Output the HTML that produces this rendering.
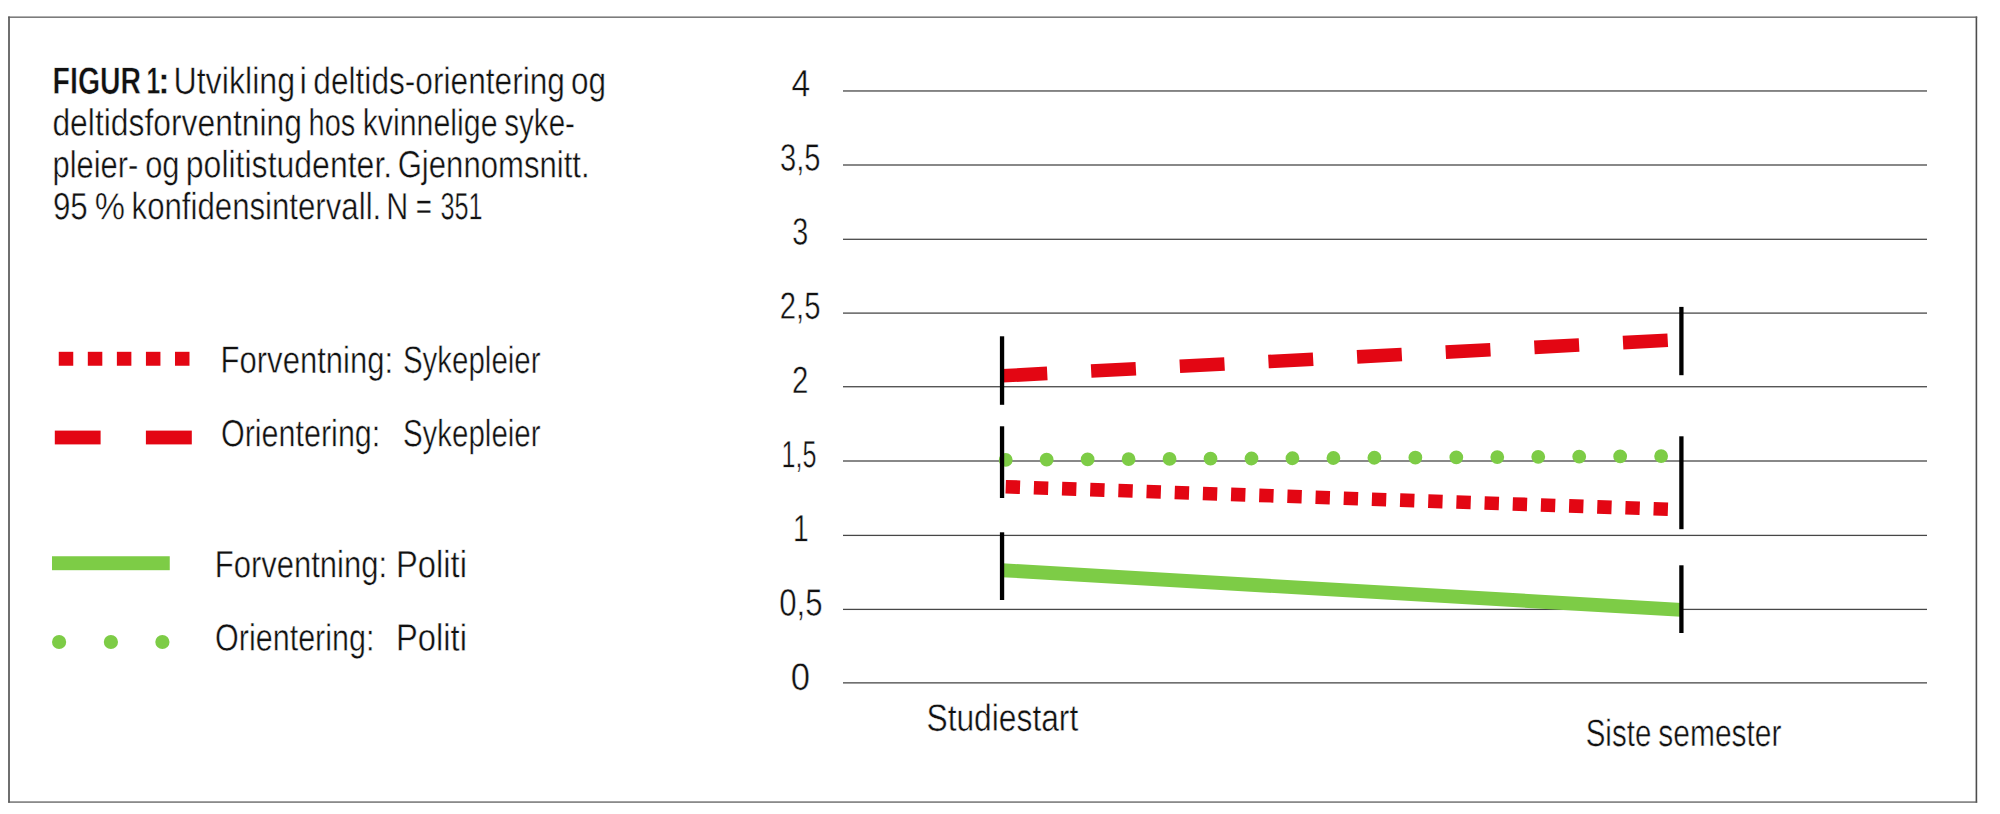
<!DOCTYPE html>
<html lang="no"><head><meta charset="utf-8"><title>Figur 1</title>
<style>html,body{margin:0;padding:0;background:#fff;overflow:hidden}svg{display:block}text{font-family:"Liberation Sans",sans-serif;font-size:38.0px;fill:#111;text-rendering:geometricPrecision;stroke:#fff;stroke-width:0.45px}.b{font-weight:bold;stroke-width:0.5px}</style></head><body>
<svg width="2000" height="814" viewBox="0 0 2000 814">
<rect x="0" y="0" width="2000" height="814" fill="#fff"/>
<g fill="#4d4d4d"><rect x="8.2" y="16.5" width="1.6" height="786.2"/><rect x="1975.6" y="16.5" width="1.6" height="786.2"/></g>
<g fill="#5e5e5e"><rect x="8.2" y="16.51" width="1969" height="1.3"/><rect x="8.2" y="801.42" width="1969" height="1.3"/></g>
<g fill="#474747">
<rect x="843" y="90.33" width="1084" height="1.28"/>
<rect x="843" y="164.36" width="1084" height="1.28"/>
<rect x="843" y="238.66" width="1084" height="1.28"/>
<rect x="843" y="312.46" width="1084" height="1.28"/>
<rect x="843" y="386.09" width="1084" height="1.28"/>
<rect x="843" y="460.36" width="1084" height="1.28"/>
<rect x="843" y="534.76" width="1084" height="1.28"/>
<rect x="843" y="608.76" width="1084" height="1.28"/>
<rect x="843" y="682.23" width="1084" height="1.28"/>
</g>
<g fill="none" stroke-width="13.6">
<line x1="1002.5" y1="375.8" x2="1681.4" y2="339.5" stroke="#e30613" stroke-dasharray="44.8 43.97"/>
<line x1="1005.7" y1="459.9" x2="1662" y2="456.1" stroke="#7dcc46" stroke-width="13.8" stroke-linecap="round" stroke-dasharray="0.01 40.955"/>
<line x1="1005.7" y1="486.75" x2="1668.5" y2="509.27" stroke="#e30613" stroke-dasharray="14.35 13.835"/>
<line x1="1002" y1="570.2" x2="1681.4" y2="609.9" stroke="#7dcc46" stroke-width="13.9"/>
</g>
<g fill="#000">
<rect x="999.90" y="336.3" width="4.3" height="68.5"/>
<rect x="999.90" y="426.3" width="4.3" height="71.7"/>
<rect x="999.90" y="532.3" width="4.3" height="67.7"/>
<rect x="1679.25" y="306.9" width="4.3" height="68.3"/>
<rect x="1679.25" y="436.3" width="4.3" height="92.9"/>
<rect x="1679.25" y="565.3" width="4.3" height="67.7"/>
</g>
<rect x="58.75" y="351.8" width="14.5" height="13.95" fill="#e30613"/>
<rect x="87.81" y="351.8" width="14.5" height="13.95" fill="#e30613"/>
<rect x="116.87" y="351.8" width="14.5" height="13.95" fill="#e30613"/>
<rect x="145.93" y="351.8" width="14.5" height="13.95" fill="#e30613"/>
<rect x="174.99" y="351.8" width="14.5" height="13.95" fill="#e30613"/>
<rect x="54.8" y="430.6" width="45.8" height="13.8" fill="#e30613"/>
<rect x="145.9" y="430.6" width="45.9" height="13.8" fill="#e30613"/>
<rect x="52.0" y="556.25" width="117.75" height="13.95" fill="#7dcc46"/>
<circle cx="59.1" cy="642.0" r="7.1" fill="#7dcc46"/>
<circle cx="110.9" cy="642.0" r="7.1" fill="#7dcc46"/>
<circle cx="162.4" cy="642.0" r="7.1" fill="#7dcc46"/>
<text id="t1a" transform="matrix(1 0.001 0 1 0 -0.0969)" x="52.60" y="93.82" textLength="88.55" lengthAdjust="spacingAndGlyphs" class="b">FIGUR</text>
<text id="t1a2" transform="matrix(1 0.001 0 1 0 -0.1533)" x="146.42" y="93.82" textLength="13.77" lengthAdjust="spacingAndGlyphs" class="b">1</text>
<text id="t1a3" transform="matrix(1 0.001 0 1 0 -0.1639)" x="158.02" y="93.82" textLength="11.78" lengthAdjust="spacingAndGlyphs" class="b">:</text>
<text id="t1b" transform="matrix(1 0.001 0 1 0 -0.2343)" x="173.42" y="93.82" textLength="121.75" lengthAdjust="spacingAndGlyphs">Utvikling</text>
<text id="t1c" transform="matrix(1 0.001 0 1 0 -0.3033)" x="299.55" y="93.82" textLength="7.44" lengthAdjust="spacingAndGlyphs">i</text>
<text id="t1d" transform="matrix(1 0.001 0 1 0 -0.4391)" x="313.33" y="93.82" textLength="251.62" lengthAdjust="spacingAndGlyphs">deltids-orientering</text>
<text id="t1e" transform="matrix(1 0.001 0 1 0 -0.5886)" x="571.03" y="93.82" textLength="35.04" lengthAdjust="spacingAndGlyphs">og</text>
<text id="t2a" transform="matrix(1 0.001 0 1 0 -0.1772)" x="52.42" y="135.62" textLength="249.57" lengthAdjust="spacingAndGlyphs">deltidsforventning</text>
<text id="t2b" transform="matrix(1 0.001 0 1 0 -0.3320)" x="308.60" y="135.62" textLength="46.75" lengthAdjust="spacingAndGlyphs">hos</text>
<text id="t2c" transform="matrix(1 0.001 0 1 0 -0.4301)" x="362.63" y="135.62" textLength="134.95" lengthAdjust="spacingAndGlyphs">kvinnelige</text>
<text id="t2d" transform="matrix(1 0.001 0 1 0 -0.5396)" x="504.25" y="135.62" textLength="70.71" lengthAdjust="spacingAndGlyphs">syke-</text>
<text id="t3a" transform="matrix(1 0.001 0 1 0 -0.0954)" x="52.44" y="177.42" textLength="85.89" lengthAdjust="spacingAndGlyphs">pleier-</text>
<text id="t3b" transform="matrix(1 0.001 0 1 0 -0.1623)" x="145.16" y="177.42" textLength="34.37" lengthAdjust="spacingAndGlyphs">og</text>
<text id="t3c" transform="matrix(1 0.001 0 1 0 -0.2890)" x="185.81" y="177.42" textLength="206.41" lengthAdjust="spacingAndGlyphs">politistudenter.</text>
<text id="t3d" transform="matrix(1 0.001 0 1 0 -0.4936)" x="397.66" y="177.42" textLength="191.96" lengthAdjust="spacingAndGlyphs">Gjennomsnitt.</text>
<text id="t4a" transform="matrix(1 0.001 0 1 0 -0.0703)" x="52.88" y="219.22" textLength="34.86" lengthAdjust="spacingAndGlyphs">95</text>
<text id="t4b" transform="matrix(1 0.001 0 1 0 -0.1098)" x="94.71" y="219.22" textLength="30.27" lengthAdjust="spacingAndGlyphs">%</text>
<text id="t4c" transform="matrix(1 0.001 0 1 0 -0.2564)" x="131.56" y="219.22" textLength="249.68" lengthAdjust="spacingAndGlyphs">konfidensintervall.</text>
<text id="t4d" transform="matrix(1 0.001 0 1 0 -0.3973)" x="386.30" y="219.22" textLength="22.03" lengthAdjust="spacingAndGlyphs">N</text>
<text id="t4e" transform="matrix(1 0.001 0 1 0 -0.4239)" x="415.80" y="219.22" textLength="16.19" lengthAdjust="spacingAndGlyphs">=</text>
<text id="t4f" transform="matrix(1 0.001 0 1 0 -0.4615)" x="440.50" y="219.22" textLength="42.08" lengthAdjust="spacingAndGlyphs">351</text>
<text id="l1a" transform="matrix(1 0.001 0 1 0 -0.3068)" x="220.60" y="372.92" textLength="172.43" lengthAdjust="spacingAndGlyphs">Forventning:</text>
<text id="l1b" transform="matrix(1 0.001 0 1 0 -0.4717)" x="402.90" y="372.92" textLength="137.66" lengthAdjust="spacingAndGlyphs">Sykepleier</text>
<text id="l2a" transform="matrix(1 0.001 0 1 0 -0.3006)" x="220.92" y="446.32" textLength="159.41" lengthAdjust="spacingAndGlyphs">Orientering:</text>
<text id="l2b" transform="matrix(1 0.001 0 1 0 -0.4717)" x="402.90" y="446.32" textLength="137.66" lengthAdjust="spacingAndGlyphs">Sykepleier</text>
<text id="l3a" transform="matrix(1 0.001 0 1 0 -0.3009)" x="214.70" y="577.22" textLength="172.43" lengthAdjust="spacingAndGlyphs">Forventning:</text>
<text id="l3b" transform="matrix(1 0.001 0 1 0 -0.4314)" x="395.94" y="577.22" textLength="70.97" lengthAdjust="spacingAndGlyphs">Politi</text>
<text id="l4a" transform="matrix(1 0.001 0 1 0 -0.2948)" x="215.12" y="650.62" textLength="159.31" lengthAdjust="spacingAndGlyphs">Orientering:</text>
<text id="l4b" transform="matrix(1 0.001 0 1 0 -0.4314)" x="395.94" y="650.62" textLength="70.97" lengthAdjust="spacingAndGlyphs">Politi</text>
<text id="x1" transform="matrix(1 0.001 0 1 0 -1.0024)" x="926.46" y="730.72" textLength="151.82" lengthAdjust="spacingAndGlyphs">Studiestart</text>
<text id="x2a" transform="matrix(1 0.001 0 1 0 -1.6185)" x="1585.70" y="746.02" textLength="65.61" lengthAdjust="spacingAndGlyphs">Siste</text>
<text id="x2b" transform="matrix(1 0.001 0 1 0 -1.7199)" x="1658.33" y="746.02" textLength="123.11" lengthAdjust="spacingAndGlyphs">semester</text>
<text id="y0" transform="matrix(1 0.001 0 1 0 -0.8008)" x="791.39" y="96.22" textLength="18.76" lengthAdjust="spacingAndGlyphs">4</text>
<text id="y1" transform="matrix(1 0.001 0 1 0 -0.8002)" x="780.01" y="170.41" textLength="40.46" lengthAdjust="spacingAndGlyphs">3,5</text>
<text id="y2" transform="matrix(1 0.001 0 1 0 -0.8003)" x="792.32" y="244.60" textLength="15.99" lengthAdjust="spacingAndGlyphs">3</text>
<text id="y3" transform="matrix(1 0.001 0 1 0 -0.8001)" x="779.77" y="318.79" textLength="40.70" lengthAdjust="spacingAndGlyphs">2,5</text>
<text id="y4" transform="matrix(1 0.001 0 1 0 -0.8002)" x="792.06" y="392.98" textLength="16.35" lengthAdjust="spacingAndGlyphs">2</text>
<text id="y5" transform="matrix(1 0.001 0 1 0 -0.7990)" x="781.56" y="467.17" textLength="34.92" lengthAdjust="spacingAndGlyphs">1,5</text>
<text id="y6" transform="matrix(1 0.001 0 1 0 -0.8009)" x="793.00" y="541.36" textLength="15.74" lengthAdjust="spacingAndGlyphs">1</text>
<text id="y7" transform="matrix(1 0.001 0 1 0 -0.8009)" x="779.21" y="615.55" textLength="43.35" lengthAdjust="spacingAndGlyphs">0,5</text>
<text id="y8" transform="matrix(1 0.001 0 1 0 -0.8003)" x="790.70" y="689.74" textLength="19.27" lengthAdjust="spacingAndGlyphs">0</text>
</svg></body></html>
